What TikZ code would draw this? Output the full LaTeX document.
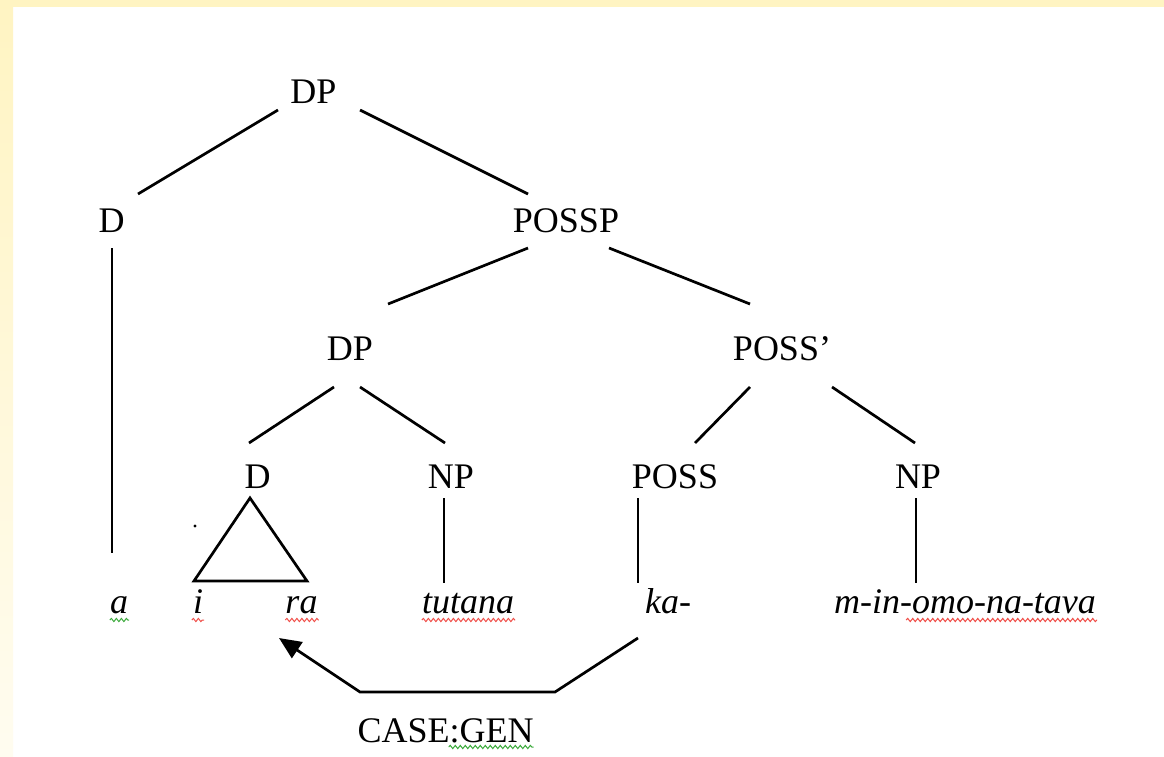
\documentclass[tikz,border=0pt]{standalone}
\usepackage{fontspec}
\setmainfont{Liberation Serif}
\usetikzlibrary{arrows.meta,calc,decorations.pathmorphing}
\definecolor{bgyellow}{HTML}{FFF4C2}
\definecolor{bgpale}{HTML}{FFFCF0}
\definecolor{spellred}{HTML}{F0504A}
\definecolor{spellgreen}{HTML}{3DAA3D}
\begin{document}
\begin{tikzpicture}[x=1pt,y=-1pt,
  lbl/.style={anchor=base,inner sep=0pt,font=\fontsize{36}{40}\selectfont},
  word/.style={anchor=base,inner sep=0pt,font=\fontsize{36}{40}\selectfont\itshape},
  branch/.style={line width=2.7pt},
  squig/.style={decorate,decoration={snake,segment length=5pt,amplitude=1.6pt},line width=1pt}]
% background
\useasboundingbox (0,0) rectangle (1164,757);
\fill[white] (0,0) rectangle (1164,757);
\shade[top color=bgyellow,bottom color=bgpale] (0,0) rectangle (13,757);
\fill[bgyellow] (0,0) rectangle (1164,7);
% nodes
\node[lbl] (dp) at (313.5,104) {DP};
\node[lbl] (d1) at (111.5,232) {D};
\node[lbl] (possp) at (566,232) {POSSP};
\node[lbl] (dp2) at (350,360) {DP};
\node[lbl] (possbar) at (782,360) {POSS’};
\node[lbl] (d2) at (257.5,488) {D};
\node[lbl] (np1) at (451,488) {NP};
\node[lbl] (poss) at (675,488) {POSS};
\node[lbl] (np2) at (918,488) {NP};
\node[word] (wa) at (119,613) {a};
\node[word] (wi) at (198,613) {i};
\node[word] (wra) at (301.5,613) {ra};
\node[word] (wtutana) at (468,613) {tutana};
\node[word] (wka) at (668,613) {ka-};
\node[word] (wmin) at (965,613) {m-in-omo-na-tava};
\node[lbl] (casegen) at (445.5,742) {CASE:GEN};
% branches
\draw[branch] ($(dp.base)+(-35.5,6)$) -- ($(d1.base)+(26.5,-38)$);
\draw[branch] ($(dp.base)+(46.5,6)$) -- ($(possp.base)+(-38,-38)$);
\draw[branch] ($(d1.base)+(0.5,16)$) -- ($(wa.base)+(-7,-60)$);
\draw[branch] ($(possp.base)+(-38,16)$) -- ($(dp2.base)+(38,-56)$);
\draw[branch] ($(possp.base)+(43,16)$) -- ($(possbar.base)+(-32,-56)$);
\draw[branch] ($(dp2.base)+(-16,27)$) -- ($(d2.base)+(-8.5,-45)$);
\draw[branch] ($(dp2.base)+(10,27)$) -- ($(np1.base)+(-6,-45)$);
\draw[branch] ($(possbar.base)+(-32,27)$) -- ($(poss.base)+(20,-45)$);
\draw[branch] ($(possbar.base)+(50,27)$) -- ($(np2.base)+(-3,-45)$);
% triangle over i ... ra
\draw[branch,line join=miter] ($(d2.base)+(-7.5,10)$) -- ($(wra.base)+(5.5,-32)$) -- ($(wi.base)+(-4,-32)$) -- cycle;
\draw[branch] ($(np1.base)+(-7,10)$) -- ($(wtutana.base)+(-24,-30)$);
\draw[branch] ($(poss.base)+(-37,10)$) -- ($(wka.base)+(-30,-30)$);
\draw[branch] ($(np2.base)+(-2,10)$) -- ($(wmin.base)+(-49,-30)$);
% stray dot
\fill ($(wi.base)+(-3,-87)$) circle (1.6);
% case arrow
\draw[branch,line join=miter,-{Triangle[length=22pt,width=19pt]}] ($(wka.base)+(-30,25)$) -- ($(casegen.base)+(109.5,-50)$) -- ($(casegen.base)+(-85.5,-50)$) -- ($(wra.base)+(-22.5,25)$);
% spell-check underlines
\draw[squig,spellgreen] ($(wa.base west)+(0,7)$) -- ($(wa.base east)+(1,7)$);
\draw[squig,spellred] ($(wi.base west)+(-1,7)$) -- ($(wi.base east)+(1,7)$);
\draw[squig,spellred] ($(wra.base west)+(0,7)$) -- ($(wra.base east)+(1,7)$);
\draw[squig,spellred] ($(wtutana.base west)+(0,7)$) -- ($(wtutana.base east)+(1,7)$);
\draw[squig,spellred] ($(wmin.base east)+(-190,7)$) -- ($(wmin.base east)+(1,7)$);
\draw[squig,spellgreen] ($(casegen.base east)+(-85,5)$) -- ($(casegen.base east)+(0,5)$);
\end{tikzpicture}
\end{document}
